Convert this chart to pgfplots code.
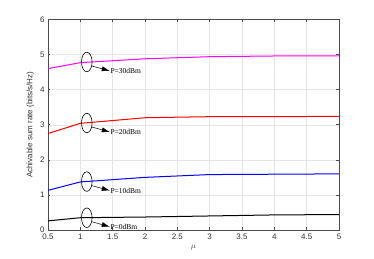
\documentclass[border=0pt]{standalone}
\usepackage{fontspec}
\setmainfont{Liberation Serif}
\setsansfont{Liberation Sans}
\usepackage{pgfplots}
\pgfplotsset{compat=1.18}
\usetikzlibrary{arrows.meta}
\definecolor{mymag}{RGB}{255,0,255}
\definecolor{myred}{RGB}{255,0,0}
\definecolor{myblue}{RGB}{0,0,255}
\begin{document}
\begin{tikzpicture}[x=1pt,y=1pt]
\useasboundingbox (-48,-29) rectangle (326,230);
\begin{axis}[
  at={(0,0)}, anchor=south west,
  scale only axis, width=291pt, height=210.5pt,
  xmin=0.5, xmax=5, ymin=0, ymax=6,
  xtick={0.5,1,...,5}, ytick={0,1,...,6},
  xticklabels={0.5,1,1.5,2,2.5,3,3.5,4,4.5,5},
  grid=major, major grid style={draw=black!10, line width=0.4pt},
  axis line style={draw=black!70, line width=0.5pt},
  tick style={draw=black!70, line width=0.5pt},
  tick align=inside, major tick length=2.5pt,
  xtick pos=both, ytick pos=both,
  ticklabel style={font=\sffamily\fontsize{8}{9}\selectfont, text=black!80},
  /pgf/number format/assume math mode=true,
  xlabel={$\mu$}, xlabel style={font=\fontsize{8}{9}\selectfont, text=black!70, yshift=1pt},
  ylabel={Achivable sum rate (bits/s/Hz)},
  ylabel style={font=\sffamily\fontsize{8}{9}\selectfont, text=black!80, yshift=-1pt},
  clip=false,
]
\addplot[mymag, line width=1pt] coordinates {(0.5,4.60) (1,4.77) (2,4.88) (3,4.94) (4,4.96) (5,4.96)};
\addplot[myred, line width=1pt] coordinates {(0.5,2.75) (1,3.04) (2,3.20) (3,3.23) (4,3.23) (5,3.24)};
\addplot[myblue, line width=1pt] coordinates {(0.5,1.13) (1,1.37) (2,1.50) (3,1.58) (4,1.59) (5,1.60)};
\addplot[black, line width=1pt] coordinates {(0.5,0.26) (1,0.35) (2,0.37) (3,0.40) (4,0.43) (5,0.44)};
\draw[black, line width=0.6pt] (axis cs:1.1,4.79) ellipse [x radius=5.3pt, y radius=9.8pt];
\draw[black, line width=0.5pt, -{Latex[length=8pt,width=5pt]}] (axis cs:1.1,4.79) ++(5pt,-4pt) -- ++(18pt,-5pt)
   node[right, inner sep=0.5pt, font=\fontsize{7.5}{8}\selectfont] {P=30dBm};
\draw[black, line width=0.6pt] (axis cs:1.1,3.05) ellipse [x radius=5.3pt, y radius=9.8pt];
\draw[black, line width=0.5pt, -{Latex[length=8pt,width=5pt]}] (axis cs:1.1,3.05) ++(5pt,-4pt) -- ++(18pt,-5pt)
   node[right, inner sep=0.5pt, font=\fontsize{7.5}{8}\selectfont] {P=20dBm};
\draw[black, line width=0.6pt] (axis cs:1.1,1.38) ellipse [x radius=5.3pt, y radius=9.8pt];
\draw[black, line width=0.5pt, -{Latex[length=8pt,width=5pt]}] (axis cs:1.1,1.38) ++(5pt,-4pt) -- ++(18pt,-5pt)
   node[right, inner sep=0.5pt, font=\fontsize{7.5}{8}\selectfont] {P=10dBm};
\draw[black, line width=0.6pt] (axis cs:1.1,0.35) ellipse [x radius=5.3pt, y radius=9.8pt];
\draw[black, line width=0.5pt, -{Latex[length=8pt,width=5pt]}] (axis cs:1.1,0.35) ++(5pt,-4pt) -- ++(18pt,-5pt)
   node[right, inner sep=0.5pt, font=\fontsize{7.5}{8}\selectfont] {P=0dBm};
\end{axis}
\end{tikzpicture}
\end{document}
